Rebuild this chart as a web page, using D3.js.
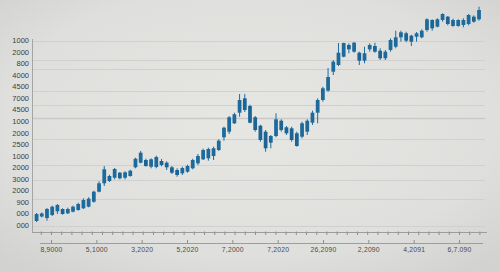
<!DOCTYPE html>
<html>
<head>
<meta charset="utf-8">
<script src="https://cdn.jsdelivr.net/npm/d3@7"></script>
<style>
  html, body { margin: 0; padding: 0; }
  body { width: 500px; height: 272px; overflow: hidden; }
  .ylab text { font-family: "Liberation Sans", Arial, sans-serif; font-size: 7.5px; fill: #3c3c3c; }
  .xlab text { font-family: "Liberation Sans", Arial, sans-serif; font-size: 6.8px; fill: #4a4a4a; letter-spacing: 0.2px; }
</style>
</head>
<body>
<div id="chart"></div>
<script>
// y tick labels as printed on the chart (top to bottom)
const yLabels = ["1000", "2000", "800", "4000", "4500", "7000", "4500", "1000", "2000",
                 "2500", "1000", "2000", "3000", "2000", "900", "000", "000"]

// x tick labels
const xLabels = ["8,9000", "5,1000", "3,2020", "5,2020", "7,2000", "3,2020",
                 "7,2020", "26,2090", "2,2090", "4,2091", "6,7.090"]

// horizontal gridline levels (price units)
const gridValues = [1920, 1730, 1640, 1420, 1280, 1145, 940, 680, 530, 340, 70]

// candles
const opens = [120,165,150,180,217,240,197,213,230,247,
    263,313,413,497,570,553,603,553,570,657,
    703,730,663,660,720,703,657,630,597,613,
    647,697,737,747,770,830,957,1013,1097,1203,
    1347,1270,1157,1073,1013,903,970,1123,1057,1047,
    997,963,1013,1103,1203,1330,1423,1613,1680,1763,
    1880,1813,1803,1723,1837,1870,1823,1747,1830,1863,
    1957,1997,1973,1963,1957,2030,2130,2063,2130,2163,
    2070,2070,2080,2090,2163,2137]
const closes = [190,195,240,263,280,190,240,263,290,330,
    343,413,497,637,520,640,547,607,623,743,
    803,670,737,760,680,657,603,580,650,670,
    730,770,830,840,847,923,1053,1157,1187,1330,
    1230,1103,1030,930,847,970,1137,1030,997,930,
    870,1097,1123,1203,1330,1447,1560,1713,1803,1900,
    1837,1903,1723,1797,1880,1813,1747,1813,1930,1957,
    2007,1923,1913,1997,2023,2137,2047,2137,2190,2090,
    2130,2130,2130,2180,2113,2230]
const highs = [200,205,250,273,290,247,253,273,303,347,
    357,423,517,670,583,650,610,617,633,753,
    820,743,747,773,740,717,670,647,663,683,
    743,790,843,853,863,937,1063,1170,1203,1390,
    1390,1283,1170,1083,1030,980,1197,1137,1070,1063,
    1013,1113,1137,1223,1347,1463,1650,1730,1900,1903,
    1897,1910,1813,1863,1897,1903,1847,1830,1947,2023,
    2023,2013,1983,2010,2037,2147,2137,2147,2197,2170,
    2143,2137,2147,2190,2177,2263]
const lows = [110,155,123,170,190,183,190,207,223,240,
    257,303,407,470,510,537,537,537,563,647,
    697,663,647,647,667,630,590,563,580,603,
    637,680,730,723,730,820,923,990,1090,1163,
    1210,1097,1013,913,813,847,957,1013,980,913,
    863,947,980,1080,1097,1313,1413,1580,1670,1757,
    1797,1803,1680,1697,1813,1803,1730,1730,1813,1847,
    1913,1907,1870,1913,1947,2013,2023,2057,2113,2077,
    2063,2063,2057,2077,2103,2123]

const W = 500, H = 272

let svg = d3.select("#chart").append("svg")
    .attr("width", W)
    .attr("height", H)

// background with soft vignette
let defs = svg.append("defs")
let grad = defs.append("radialGradient")
    .attr("id", "bg")
    .attr("cx", "50%").attr("cy", "45%").attr("r", "70%")
grad.append("stop").attr("offset", "0%").attr("stop-color", "#e6e6e3")
grad.append("stop").attr("offset", "70%").attr("stop-color", "#dfe0dd")
grad.append("stop").attr("offset", "100%").attr("stop-color", "#d2d3d0")

svg.append("rect")
    .attr("width", W).attr("height", H)
    .attr("fill", "url(#bg)")

let data = opens.map((o, i) => ({i: i, o: o, c: closes[i], h: highs[i], l: lows[i]}))

// scales
let x = d3.scaleBand()
    .domain(data.map(d => d.i))
    .range([34.7, 480.9])
    .paddingInner(0.28)

let y = d3.scaleLinear()
    .domain([0, 2330])
    .range([233, 0])

let yLab = d3.scalePoint()
    .domain(d3.range(yLabels.length))
    .range([40.3, 225])

let xLab = d3.scalePoint()
    .domain(xLabels)
    .range([51, 459])

// gridlines
svg.append("g")
    .selectAll("line")
    .data(gridValues)
    .enter()
    .append("line")
    .attr("x1", 33)
    .attr("x2", 485)
    .attr("y1", d => Math.round(y(d)) + 0.5)
    .attr("y2", d => Math.round(y(d)) + 0.5)
    .attr("stroke", d => d === 1145 ? "#c9cac7" : "#d0d1ce")
    .attr("stroke-width", d => d === 1145 ? 1.4 : 1)

// y labels
let yAxis = svg.append("g")
    .attr("class", "ylab")
    .attr("transform", "translate(29,0)")
    .call(d3.axisLeft(yLab).tickSize(0).tickPadding(0).tickFormat(i => yLabels[i]))
yAxis.select(".domain").remove()

// y axis line
svg.append("line")
    .attr("x1", 32.5).attr("x2", 32.5)
    .attr("y1", 39).attr("y2", 233)
    .attr("stroke", "#a5a6a3")
    .attr("stroke-width", 1)

// first x axis with small ticks
let minor = d3.scaleLinear().domain([0, 43]).range([40.8, 479.4])
let minorAxis = svg.append("g")
    .attr("transform", "translate(0,232.5)")
    .call(d3.axisBottom(minor).ticks(43).tickSize(2.5).tickFormat(""))
minorAxis.select(".domain")
    .attr("d", "M32.5,0H487")
    .attr("stroke", "#9d9e9b")
minorAxis.selectAll(".tick line")
    .attr("y1", -1)
    .attr("stroke", "#8e8f8c")

// second x axis with labels
let xAxis = svg.append("g")
    .attr("class", "xlab")
    .attr("transform", "translate(0,243.5)")
    .call(d3.axisBottom(xLab).tickSizeInner(-3.5).tickSizeOuter(0).tickPadding(3.5))
xAxis.select(".domain")
    .attr("d", `M${xLab(xLabels[0]) - 11},0H${xLab(xLabels[xLabels.length - 1]) + 24}`)
    .attr("stroke", "#9d9e9b")
xAxis.selectAll(".tick line").attr("stroke", "#8e8f8c")

// candles
let candles = svg.append("g")
    .selectAll(".candle")
    .data(data)
    .enter()
    .append("g")
    .attr("class", "candle")
    .attr("transform", d => `translate(${x(d.i)},0)`)

candles.append("line")
    .attr("x1", x.bandwidth() / 2)
    .attr("x2", x.bandwidth() / 2)
    .attr("y1", d => y(d.h))
    .attr("y2", d => y(d.l))
    .attr("stroke", "#1f6b9c")
    .attr("stroke-width", 1)

candles.append("rect")
    .attr("x", 0)
    .attr("width", x.bandwidth())
    .attr("y", d => y(Math.max(d.o, d.c)))
    .attr("height", d => Math.max(1, Math.abs(y(d.o) - y(d.c))))
    .attr("fill", d => d.c >= d.o ? "#1d6a9c" : "#1a6596")
</script>
</body>
</html>
